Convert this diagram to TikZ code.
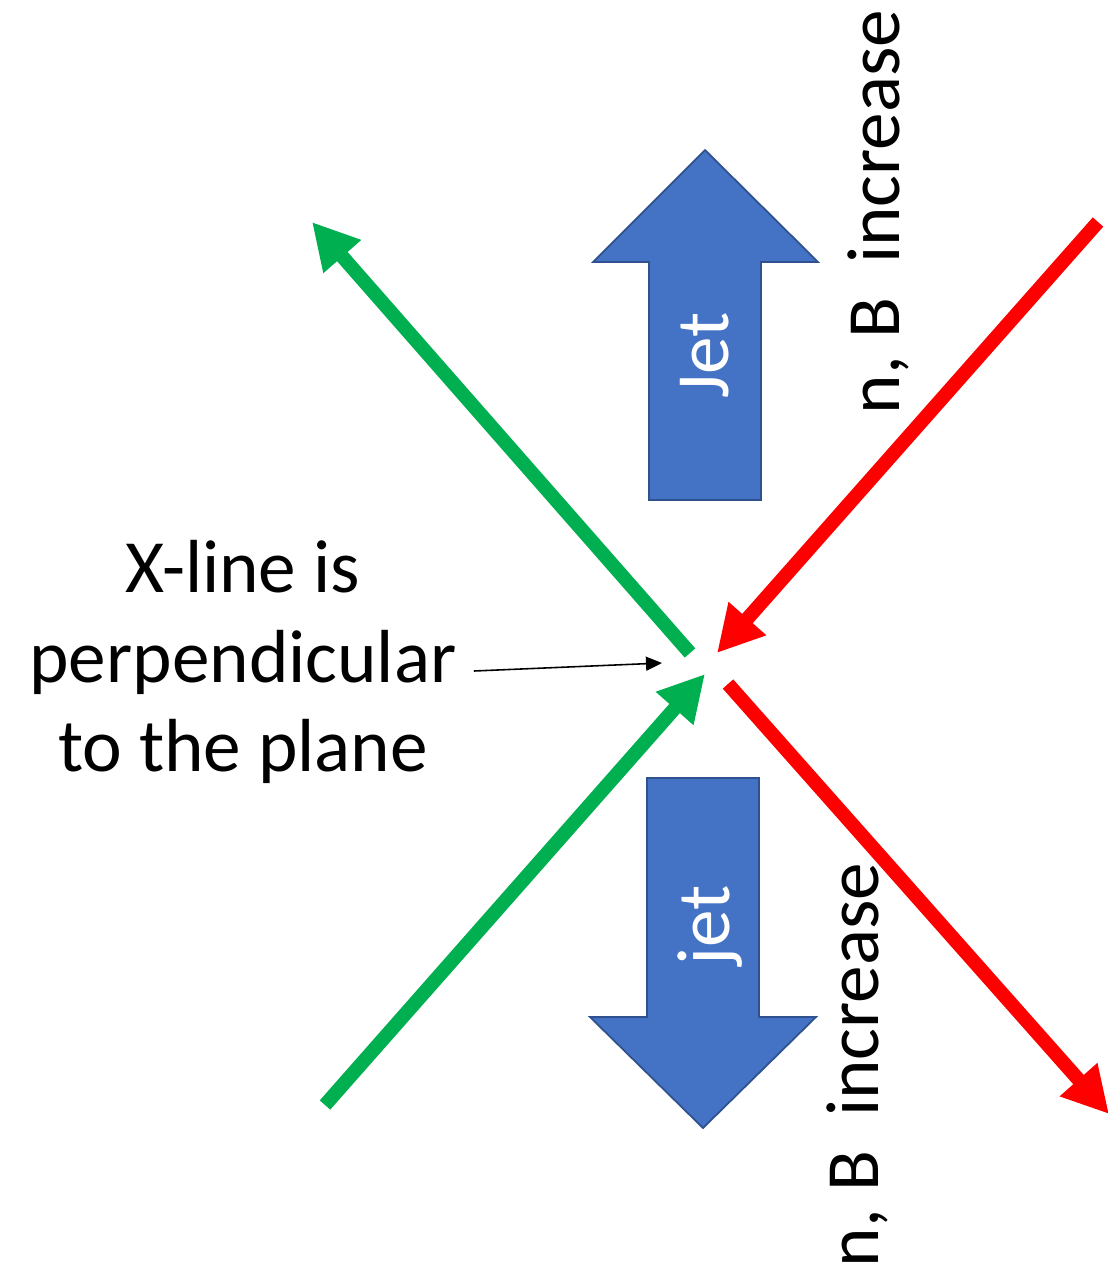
\documentclass[tikz,border=0pt]{standalone}
\usepackage{fontspec}
\setmainfont{Carlito}
\usetikzlibrary{arrows.meta, positioning}
\definecolor{fieldgreen}{HTML}{00B050}
\definecolor{fieldred}{HTML}{FF0000}
\definecolor{jetblue}{HTML}{4472C4}
\definecolor{jetedge}{HTML}{2F528F}

\begin{document}
\begin{tikzpicture}[
x=0.02cm, y=-0.02cm,
label/.style={font=\fontsize{42.8}{51}\selectfont, inner sep=0pt, align=center},
field/.style={line width=0.28cm, -{Triangle[length=0.92cm, width=0.94cm]}},
jet/.style={fill=jetblue, draw=jetedge, line width=1pt},
pointer/.style={line width=0.9pt, -{Triangle[length=0.32cm, width=0.28cm]}}
]
\useasboundingbox (0,0) rectangle (1107,1272);

% field line end points
\coordinate (gtail1) at (690,653);
\coordinate (ghead1) at (312,222);
\coordinate (gtail2) at (325,1105);
\coordinate (ghead2) at (705,674);
\coordinate (rtail1) at (1098,222);
\coordinate (rhead1) at (717,653);
\coordinate (rtail2) at (728,684);
\coordinate (rhead2) at (1109,1114);

% jet arrows
\draw[jet] (705,150) -- (818,262) -- (761,262) -- (761,500) -- (649,500)
  -- (649,262) -- (593,262) -- cycle;
\draw[jet] (703,1128) -- (816,1017) -- (759,1017) -- (759,778) -- (647,778)
  -- (647,1017) -- (590,1017) -- cycle;
\node[label, text=white, rotate=90] (jetup) at (705,355) {Jet};
\node[label, text=white, rotate=90] (jetdown) at (710,925) {jet};

% field lines
\draw[field, fieldgreen] (gtail1) -- (ghead1);
\draw[field, fieldgreen] (gtail2) -- (ghead2);
\draw[field, fieldred] (rtail1) -- (rhead1);
\draw[field, fieldred] (rtail2) -- (rhead2);

% labels
\node[label, rotate=90] (incup) at (878,212) {n, B\ \ increase};
\node[label, rotate=90] (incdown) at (857,1065) {n, B\ \ increase};
\node[label] (xline) at (243,662) {X-line is\\perpendicular\\to the plane};

\coordinate (xpoint) at (662,663);
\draw[pointer] (xline.east |- 0,671) ++(17,0) coordinate (pstart) -- (xpoint);

\end{tikzpicture}
\end{document}
